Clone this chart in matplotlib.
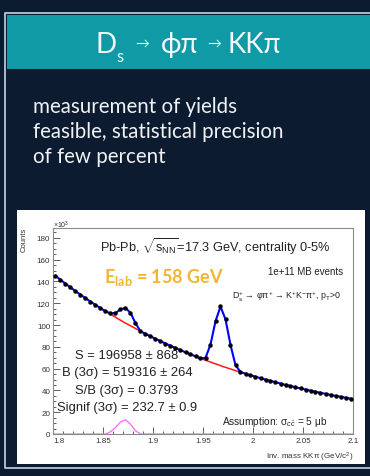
import matplotlib
matplotlib.use("Agg")
import matplotlib.pyplot as plt
import numpy as np
from matplotlib.patches import Rectangle
from matplotlib.ticker import FuncFormatter, MultipleLocator

plt.rcParams["font.family"] = ["Liberation Sans", "DejaVu Sans"]
plt.rcParams["mathtext.fontset"] = "custom"
plt.rcParams["mathtext.rm"] = "Liberation Sans"
plt.rcParams["mathtext.it"] = "Liberation Sans:italic"
plt.rcParams["mathtext.sf"] = "Liberation Sans"

# KK-pi invariant mass histogram, 5 MeV bins from 1.8 to 2.1 GeV/c^2 (counts x 10^3)
mass = np.linspace(1.8025, 2.0975, 60)
counts = [
    145.1, 141.5, 137.9, 134.5, 131.1, 127.8, 124.6, 121.5, 118.4, 115.5,
    112.6, 110.7, 111.0, 114.3, 115.7, 111.1, 101.7, 94.2, 91.9, 89.6,
    87.3, 85.2, 83.0, 80.9, 78.9, 76.9, 75.0, 73.1, 71.3, 69.5,
    69.8, 82.1, 103.4, 117.0, 105.2, 81.7, 63.2, 56.9, 55.3, 53.9,
    52.6, 51.2, 50.0, 48.7, 47.5, 46.3, 45.1, 44.0, 42.9, 41.8,
    40.8, 39.8, 38.8, 37.8, 36.9, 35.9, 35.0, 34.2, 33.3, 32.5,
]

# background under the D+ and Ds peaks
bkg_mass = [1.85, 1.87, 1.89, 1.91, 1.93, 1.95, 1.97, 1.99]
bkg_counts = [114.0, 103.0, 93.1, 84.1, 75.9, 68.5, 61.9, 55.9]

# D+ contribution
dplus_mass = [1.8, 1.8525, 1.8575, 1.8625, 1.8675, 1.8725, 1.8775, 1.8825, 1.8875, 2.1]
dplus_counts = [0, 0, 2, 6, 11, 13, 9, 3, 0, 0]

x_ticks = [1.8, 1.85, 1.9, 1.95, 2.0, 2.05, 2.1]

stats_lines = [
    "S = 196958 ± 868",
    "B (3σ) = 519316 ± 264",
    "S/B (3σ) = 0.3793",
    "Signif (3σ) = 232.7 ± 0.9",
]
body_lines = [
    "measurement of yields",
    "feasible, statistical precision",
    "of few percent",
]

NAVY = "#0d1b30"
TEAL = "#0f9aa6"
FRAME = "#c8d3df"
GOLD = "#f2b531"
SLIDE_FONT = ["Lato", "DejaVu Sans"]

W, H = 370, 477
fig = plt.figure(figsize=(W / 100, H / 100), dpi=100, facecolor=NAVY)

# slide background, drawn in pixel units
bg = fig.add_axes([0, 0, 1, 1], zorder=0)
bg.set_xlim(0, W)
bg.set_ylim(H, 0)
bg.axis("off")
bg.plot([W, 5, 5, W], [14, 14, 469, 469], color=FRAME, lw=1.2)
bg.add_patch(Rectangle((7, 16), W - 7, 54, color=TEAL, lw=0))
bg.add_patch(Rectangle((17, 211), 348, 254, color="white", lw=0))

# title: D_s -> phi pi -> K K pi, with small arrows
title_parts = [
    (95, 53, "D", 20, "left", "baseline"),
    (116, 62, "s", 12, "left", "baseline"),
    (142, 44, "→", 10, "center", "center"),
    (161, 53, "ϕπ", 20, "left", "baseline"),
    (214, 44, "→", 10, "center", "center"),
    (227, 53, "KKπ", 20, "left", "baseline"),
]
for x, y, s, size, ha, va in title_parts:
    bg.text(x, y, s, color="#f2f8f9", fontsize=size, ha=ha, va=va,
            family=SLIDE_FONT)

for i, line in enumerate(body_lines):
    bg.text(33, 107 + 25 * i, line, color="#f0f2f5", fontsize=14.8,
            ha="left", va="center", family=SLIDE_FONT)

# the invariant mass plot
ax = fig.add_axes([53 / W, 1 - 435 / H, 300 / W, 206 / H], zorder=1)
ax.patch.set_alpha(0)
ax.plot(dplus_mass, dplus_counts, color="#ff66ff", lw=0.9, zorder=2)
ax.plot(bkg_mass, bkg_counts, color="#ff1a1a", lw=1.1, zorder=3)
ax.plot(mass, counts, color="#0000ff", lw=1.5, zorder=4)
ax.plot(mass, counts, "o", color="black", ms=2.2, zorder=5)

ax.set_xlim(1.8, 2.1)
ax.set_ylim(0, 189)
ax.set_xticks(x_ticks)
ax.xaxis.set_minor_locator(MultipleLocator(0.01))
ax.yaxis.set_major_locator(MultipleLocator(20))
ax.yaxis.set_minor_locator(MultipleLocator(5))
ax.xaxis.set_major_formatter(FuncFormatter(lambda v, _: f"{v:g}"))
ax.tick_params(which="both", direction="in", top=False, right=False,
               labelsize=5.8, labelcolor="#333333", color="#444444", width=0.6)
ax.tick_params(which="major", length=5, pad=2)
ax.tick_params(which="minor", length=2.5)
for spine in ax.spines.values():
    spine.set_color("#8a8a8a")
    spine.set_linewidth(0.8)

# keep the "0" and "1.8" labels apart at the origin
ax.yaxis.get_major_ticks()[0].label1.set_verticalalignment("bottom")
ax.xaxis.get_major_ticks()[0].label1.set_horizontalalignment("left")

ax.text(53, 225, r"×10$^{3}$", transform=bg.transData, fontsize=5,
        color="#333333", ha="left", va="center")
ax.text(24, 240, "Counts", transform=bg.transData, fontsize=5.5,
        color="#333333", rotation=90, ha="center", va="center")
ax.text(353, 457, r"Inv. mass KKπ (GeV/c$^{2}$)", transform=bg.transData,
        fontsize=5.8, color="#333333", ha="right", va="center")

ax.text(100, 247, r"Pb-Pb, $\sqrt{\mathregular{s_{NN}}}$=17.3 GeV, centrality 0-5%",
        transform=bg.transData, fontsize=9.2, color="#222222", ha="left", va="center")
ax.text(104, 278, r"E$_{\mathregular{lab}}$ = 158 GeV", transform=bg.transData,
        fontsize=13, color=GOLD, ha="left", va="center",
        family=SLIDE_FONT, fontweight="bold")
ax.text(268, 272, "1e+11 MB events", transform=bg.transData, fontsize=7,
        color="#222222", ha="left", va="center")
ax.text(232, 297, r"D$_{\mathregular{s}}^{+}$ → φπ$^{+}$ → K$^{+}$K$^{-}$π$^{+}$, p$_{\mathregular{T}}$>0",
        transform=bg.transData, fontsize=6.4, color="#222222", ha="left", va="center")
for i, line in enumerate(stats_lines):
    ax.text(127, 356 + 17.5 * i, line, transform=bg.transData, fontsize=9.4,
            color="#222222", ha="center", va="center")
ax.text(222, 422, r"Assumption: σ$_{c\bar{c}}$ = 5 μb", transform=bg.transData,
        fontsize=7.3, color="#222222", ha="left", va="center")

fig.savefig("out.png", dpi=100, facecolor=NAVY)
